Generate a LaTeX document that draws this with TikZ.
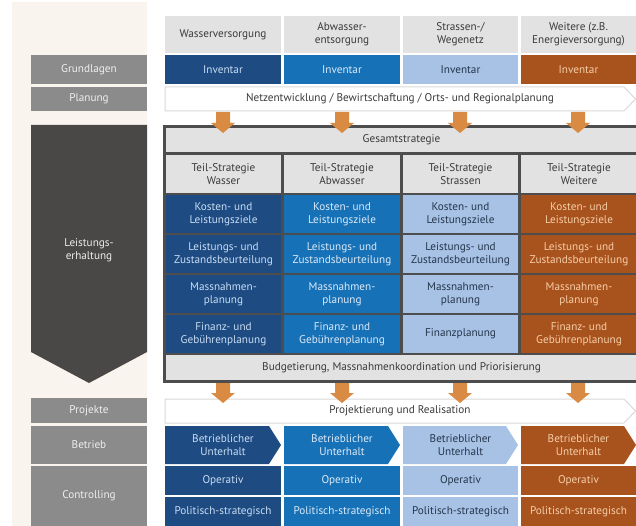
\documentclass[tikz,border=0pt]{standalone}
\usepackage{fontspec}
\setmainfont{PT Sans}
\definecolor{dblue}{HTML}{1D4B82}
\definecolor{mblue}{HTML}{1771B7}
\definecolor{lblue}{HTML}{A7C2E5}
\definecolor{orng}{HTML}{A8521D}
\definecolor{dtxt}{HTML}{C9DDF3}
\definecolor{mtxt}{HTML}{DCEAF8}
\definecolor{ltxt}{HTML}{26364C}
\definecolor{otxt}{HTML}{F6CFA8}
\definecolor{hgrey}{HTML}{E2E2E2}
\definecolor{htxt}{HTML}{3A3A3A}
\definecolor{labgrey}{HTML}{8B8B8B}
\definecolor{labtxt}{HTML}{EEEEEE}
\definecolor{darkg}{HTML}{4A4846}
\definecolor{cream}{HTML}{FAF4EE}
\definecolor{arr}{HTML}{DA8B43}
\definecolor{bord}{HTML}{4D4D4D}
\definecolor{chevline}{HTML}{D9D9D9}
\tikzset{
  txt/.style={inner sep=0pt, align=center, font=\fontsize{11.2}{13.4}\selectfont},
  orarrow/.style={fill=arr},
  chevbox/.style={fill=white, draw=chevline, line width=1pt}
}
% name, fill, textcolor, x1, y1, x2, y2, text
\newcommand\bx[8]{\fill[#2] (#4,#5) rectangle (#6,#7);
  \node[txt,text=#3] (#1) at ({(#4+#6)/2},{(#5+#7)/2}) {#8};}
% name, fill, textcolor, x1, y1, x2, y2, text  (chevron pointing right)
\newcommand\chv[8]{\fill[#2] (#4,#5) -- ({#6-12},#5) -- (#6,{(#5+#7)/2}) -- ({#6-12},#7) -- (#4,#7) -- cycle;
  \node[txt,text=#3] (#1) at ({(#4+#6)/2},{(#5+#7)/2}) {#8};}
% arrow: x center, top, head start, tip
\newcommand\darr[4]{\fill[orarrow] ({#1-7},#2) -- ({#1+7},#2) -- ({#1+7},#3) -- ({#1+12},#3) -- (#1,#4) -- ({#1-12},#3) -- ({#1-7},#3) -- cycle;}
\begin{document}
\begin{tikzpicture}[x=1pt,y=-1pt]
\useasboundingbox (0,0) rectangle (636,526);
\fill[white] (0,0) rectangle (636,526);
% left cream panel
\fill[cream] (12,2) rectangle (147,526);
% left labels
\bx{lGrund}{labgrey}{labtxt}{31}{55}{147}{84}{Grundlagen}
\bx{lPlan}{labgrey}{labtxt}{31}{87}{147}{111}{Planung}
\fill[darkg] (31,125) -- (147,125) -- (147,352) -- (89,383) -- (31,352) -- cycle;
\node[txt,text=labtxt] (lLeist) at (89,250) {Leistungs-\\erhaltung};
\bx{lProj}{labgrey}{labtxt}{31}{398}{147}{423}{Projekte}
\bx{lBetr}{labgrey}{labtxt}{31}{426}{147}{464}{Betrieb}
\bx{lCont}{labgrey}{labtxt}{31}{466}{147}{526}{Controlling}
% headers
\bx{h1}{hgrey}{htxt}{165}{16}{281}{53}{Wasserversorgung}
\bx{h2}{hgrey}{htxt}{284}{16}{400}{53}{Abwasser-\\entsorgung}
\bx{h3}{hgrey}{htxt}{403}{16}{518}{53}{Strassen-/\\Wegenetz}
\bx{h4}{hgrey}{htxt}{521}{16}{636}{53}{Weitere (z.B.\\Energieversorgung)}
% inventar
\bx{i1}{dblue}{dtxt}{165}{55}{281}{84}{Inventar}
\bx{i2}{mblue}{mtxt}{284}{55}{400}{84}{Inventar}
\bx{i3}{lblue}{ltxt}{403}{55}{518}{84}{Inventar}
\bx{i4}{orng}{otxt}{521}{55}{636}{84}{Inventar}
% planung chevron
\draw[chevbox] (165,87) -- (624,87) -- (635.5,99) -- (624,111) -- (165,111) -- cycle;
\node[txt,text=htxt] (plan) at (400,99) {Netzentwicklung / Bewirtschaftung / Orts- und Regionalplanung};
% big box
\fill[bord] (163,125) rectangle (637,383);
\bx{gesamt}{hgrey}{htxt}{166}{128}{637}{152}{Gesamtstrategie}
\bx{t1}{hgrey}{htxt}{166}{155}{281}{193}{Teil-Strategie\\Wasser}
\bx{t2}{hgrey}{htxt}{284}{155}{400}{193}{Teil-Strategie\\Abwasser}
\bx{t3}{hgrey}{htxt}{403}{155}{518}{193}{Teil-Strategie\\Strassen}
\bx{t4}{hgrey}{htxt}{521}{155}{637}{193}{Teil-Strategie\\Weitere}
% row Kosten
\bx{k1}{dblue}{dtxt}{166}{195}{281}{233}{Kosten- und\\Leistungsziele}
\bx{k2}{mblue}{mtxt}{284}{195}{400}{233}{Kosten- und\\Leistungsziele}
\bx{k3}{lblue}{ltxt}{403}{195}{518}{233}{Kosten- und\\Leistungsziele}
\bx{k4}{orng}{otxt}{521}{195}{637}{233}{Kosten- und\\Leistungsziele}
% row Leistungs
\bx{z1}{dblue}{dtxt}{166}{235}{281}{273}{Leistungs- und\\Zustandsbeurteilung}
\bx{z2}{mblue}{mtxt}{284}{235}{400}{273}{Leistungs- und\\Zustandsbeurteilung}
\bx{z3}{lblue}{ltxt}{403}{235}{518}{273}{Leistungs- und\\Zustandsbeurteilung}
\bx{z4}{orng}{otxt}{521}{235}{637}{273}{Leistungs- und\\Zustandsbeurteilung}
% row Massnahmen
\bx{m1}{dblue}{dtxt}{166}{275}{281}{313}{Massnahmen-\\planung}
\bx{m2}{mblue}{mtxt}{284}{275}{400}{313}{Massnahmen-\\planung}
\bx{m3}{lblue}{ltxt}{403}{275}{518}{313}{Massnahmen-\\planung}
\bx{m4}{orng}{otxt}{521}{275}{637}{313}{Massnahmen-\\planung}
% row Finanz
\bx{f1}{dblue}{dtxt}{166}{315}{281}{353}{Finanz- und\\Gebührenplanung}
\bx{f2}{mblue}{mtxt}{284}{315}{400}{353}{Finanz- und\\Gebührenplanung}
\bx{f3}{lblue}{ltxt}{403}{315}{518}{353}{Finanzplanung}
\bx{f4}{orng}{otxt}{521}{315}{637}{353}{Finanz- und\\Gebührenplanung}
% budget
\bx{budget}{hgrey}{htxt}{166}{355}{637}{380}{Budgetierung, Massnahmenkoordination und Priorisierung}
% projektierung chevron
\draw[chevbox] (165,399) -- (624,399) -- (635.5,411) -- (624,423) -- (165,423) -- cycle;
\node[txt,text=htxt] (proj) at (400,411) {Projektierung und Realisation};
% betrieb chevrons
\chv{b1}{dblue}{dtxt}{165}{426}{281}{464}{Betrieblicher\\Unterhalt}
\chv{b2}{mblue}{mtxt}{284}{426}{400}{464}{Betrieblicher\\Unterhalt}
\chv{b3}{lblue}{ltxt}{403}{426}{518}{464}{Betrieblicher\\Unterhalt}
\chv{b4}{orng}{otxt}{521}{426}{636}{464}{Betrieblicher\\Unterhalt}
% operativ
\bx{o1}{dblue}{dtxt}{165}{466}{281}{495}{Operativ}
\bx{o2}{mblue}{mtxt}{284}{466}{400}{495}{Operativ}
\bx{o3}{lblue}{ltxt}{403}{466}{518}{495}{Operativ}
\bx{o4}{orng}{otxt}{521}{466}{636}{495}{Operativ}
% politisch
\bx{p1}{dblue}{dtxt}{165}{497}{281}{526}{Politisch-strategisch}
\bx{p2}{mblue}{mtxt}{284}{497}{400}{526}{Politisch-strategisch}
\bx{p3}{lblue}{ltxt}{403}{497}{518}{526}{Politisch-strategisch}
\bx{p4}{orng}{otxt}{521}{497}{636}{526}{Politisch-strategisch}
% orange arrows
\foreach \cx in {223,342,460,578} {\darr{\cx}{112}{123}{133}}
\foreach \cx in {223,342,460,578} {\darr{\cx}{383}{393}{403}}
\end{tikzpicture}
\end{document}
